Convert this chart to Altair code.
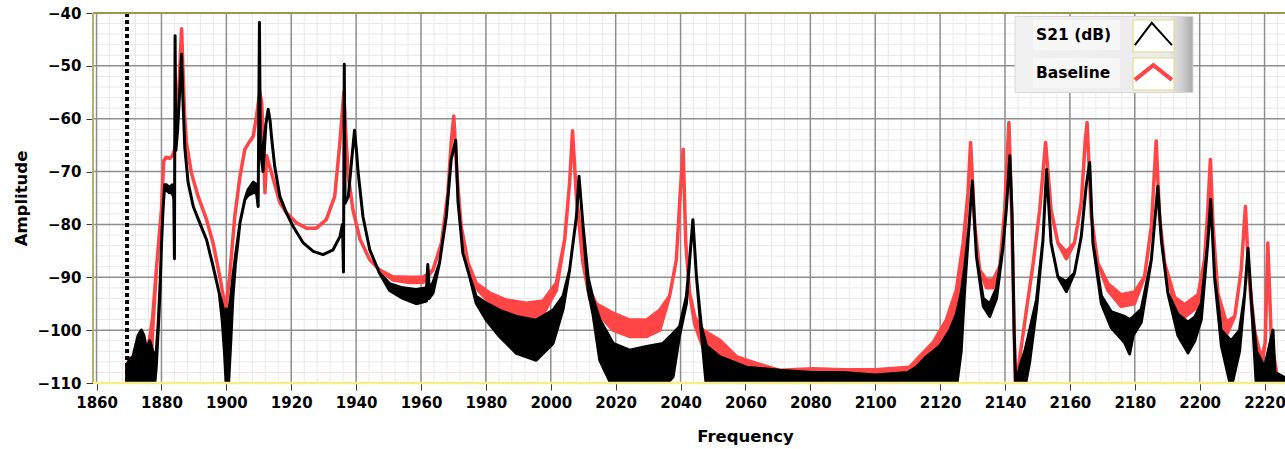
import altair as alt
import pandas as pd

# ---------------------------------------------------------------------------
# S21 (dB) trace: frequency, upper and lower envelope of the noisy trace
# ---------------------------------------------------------------------------
s21_freq = [1869.3, 1870.3, 1871.2, 1872.0, 1872.8, 1873.8, 1874.6, 1875.5, 1876.4, 1877.1,
            1877.8, 1878.4, 1879.0, 1879.6, 1880.0, 1880.5, 1881.0, 1881.5, 1882.5, 1883.3,
            1883.8, 1884.0, 1884.2, 1884.45, 1885.0, 1885.7, 1886.2, 1886.6, 1887.2, 1888.2,
            1889.8, 1891.8, 1893.9, 1895.9, 1897.8, 1898.7, 1899.4, 1900.0, 1900.6, 1901.3,
            1902.0, 1902.8, 1904.2, 1905.7, 1906.7, 1908.3, 1909.3, 1909.8, 1910.2, 1910.5,
            1911.3, 1912.2, 1912.9, 1913.5, 1913.9, 1914.9, 1916.5, 1918.5, 1920.6, 1923.7,
            1926.8, 1929.8, 1932.9, 1935.0, 1935.8, 1936.1, 1936.35, 1936.6, 1937.6, 1938.6,
            1939.5, 1940.1, 1940.6, 1942.1, 1944.2, 1947.2, 1950.3, 1954.4, 1958.5, 1961.7,
            1962.1, 1962.5, 1963.7, 1965.7, 1967.8, 1969.3, 1970.7, 1971.4, 1972.9, 1975.0,
            1977.0, 1980.1, 1984.2, 1989.4, 1995.5, 2000.7, 2003.8, 2005.8, 2007.9, 2008.7,
            2009.9, 2011.5, 2013.0, 2015.1, 2019.2, 2024.3, 2029.5, 2034.6, 2037.7, 2039.7,
            2041.8, 2042.8, 2043.8, 2044.9, 2046.4, 2048.0, 2052.1, 2060.3, 2070.6, 2080.8,
            2090.0, 2100.0, 2110.0, 2112.7, 2115.8, 2119.9, 2123.0, 2125.0, 2126.5, 2127.6,
            2128.9, 2129.9, 2131.2, 2133.3, 2135.3, 2137.4, 2139.4, 2140.4, 2141.5, 2142.2,
            2142.8, 2143.3, 2145.0, 2146.1, 2147.6, 2149.7, 2151.7, 2152.8, 2154.2, 2156.3,
            2158.9, 2161.4, 2163.5, 2165.0, 2166.1, 2167.1, 2169.7, 2172.7, 2176.9, 2178.4,
            2179.5, 2182.0, 2185.1, 2187.1, 2188.2, 2190.2, 2193.3, 2196.4, 2198.5, 2200.5,
            2202.5, 2203.4, 2204.6, 2206.7, 2209.7, 2212.3, 2213.9, 2214.9, 2216.0, 2217.5,
            2220.0, 2222.6, 2223.2, 2226.3]
s21_hi = [-106.6, -105.5, -105.0, -103.0, -101.0, -100.0, -101.0, -103.8, -102.0, -103.5,
          -105.0, -104.0, -98.7, -91.0, -84.0, -77.0, -72.5, -72.5, -73.0, -72.5,
          -75.0, -86.5, -44.3, -66.0, -62.0, -54.0, -47.8, -56.0, -65.5, -72.0,
          -76.6, -79.7, -82.9, -87.9, -93.0, -95.0, -97.0, -96.0, -97.0, -94.0,
          -90.0, -86.0, -79.7, -75.3, -73.4, -72.0, -72.5, -76.6, -41.8, -66.0,
          -65.5, -61.0, -58.2, -60.5, -63.3, -69.0, -74.7, -77.8, -80.4, -83.5,
          -85.1, -85.7, -84.8, -82.3, -80.0, -89.0, -49.7, -76.0, -74.7, -68.0,
          -62.2, -66.0, -70.0, -78.5, -84.8, -89.2, -91.2, -92.0, -92.3, -92.0,
          -87.6, -92.0, -91.0, -87.3, -78.5, -67.7, -64.1, -75.7, -85.4, -89.9,
          -93.6, -94.9, -96.2, -97.4, -98.1, -96.2, -93.5, -88.6, -78.5, -70.9,
          -80.0, -90.0, -94.0, -98.0, -102.5, -103.8, -103.1, -102.5, -100.6, -99.3,
          -93.6, -86.7, -79.1, -89.9, -99.3, -103.0, -105.0, -107.0, -107.6, -108.0,
          -108.0, -108.5, -108.0, -107.0, -105.0, -103.0, -100.0, -97.0, -93.0, -88.0,
          -80.4, -71.8, -86.1, -94.0, -95.0, -92.0, -84.2, -77.2, -67.0, -78.5,
          -100.0, -110.0, -106.0, -104.0, -100.0, -94.3, -83.0, -69.6, -83.5, -89.9,
          -90.8, -89.2, -82.3, -72.8, -68.3, -83.5, -93.5, -96.5, -97.4, -98.0,
          -97.5, -96.0, -86.7, -72.8, -83.0, -93.0, -97.0, -98.5, -97.5, -95.0,
          -83.5, -75.3, -90.0, -100.0, -102.0, -100.0, -93.0, -84.5, -95.0, -104.0,
          -107.0, -100.0, -108.0, -109.0]
s21_lo = [-111.0, -111.0, -111.0, -111.0, -111.0, -111.0, -111.0, -111.0, -111.0, -111.0,
          -111.0, -107.0, -100.0, -92.0, -84.0, -77.0, -72.5, -73.5, -74.0, -74.0,
          -75.0, -86.5, -44.3, -66.0, -62.0, -54.0, -47.8, -56.0, -65.5, -72.0,
          -76.6, -79.7, -82.9, -87.9, -93.0, -98.0, -104.0, -111.0, -111.0, -103.0,
          -94.0, -87.5, -79.7, -75.3, -74.5, -74.0, -74.0, -76.6, -41.8, -66.0,
          -70.0, -61.0, -58.2, -60.5, -63.3, -69.0, -74.7, -77.8, -80.4, -83.5,
          -85.1, -85.7, -84.8, -82.3, -80.0, -89.0, -49.7, -76.0, -74.7, -68.0,
          -62.2, -66.0, -70.0, -78.5, -84.8, -89.2, -92.5, -94.0, -95.0, -94.5,
          -93.0, -94.0, -93.0, -87.3, -78.5, -67.7, -64.1, -75.7, -85.4, -89.9,
          -94.9, -98.1, -101.2, -104.4, -105.7, -102.5, -96.0, -88.6, -78.5, -70.9,
          -80.0, -92.4, -97.0, -105.7, -111.0, -111.0, -111.0, -111.0, -108.8, -101.0,
          -95.0, -86.7, -79.1, -89.9, -100.5, -111.0, -111.0, -111.0, -111.0, -111.0,
          -111.0, -111.0, -111.0, -111.0, -111.0, -111.0, -111.0, -111.0, -104.0, -92.0,
          -80.4, -71.8, -86.1, -95.5, -97.4, -94.0, -84.2, -77.2, -67.0, -78.5,
          -100.0, -111.0, -111.0, -111.0, -106.0, -96.0, -83.0, -69.6, -83.5, -89.9,
          -92.7, -89.2, -82.3, -72.8, -68.3, -83.5, -95.0, -99.5, -102.4, -104.5,
          -101.0, -98.5, -86.7, -72.8, -83.0, -93.0, -101.0, -104.3, -102.0, -98.0,
          -83.5, -75.3, -90.0, -103.0, -111.0, -104.0, -93.0, -84.5, -95.0, -111.0,
          -111.0, -111.0, -111.0, -111.0]

# ---------------------------------------------------------------------------
# Baseline trace
# ---------------------------------------------------------------------------
base_freq = [1869.3, 1870.2, 1870.8, 1872.0, 1874.0, 1875.5, 1876.5, 1877.3, 1878.5, 1880.0,
             1880.7, 1881.4, 1882.5, 1883.4, 1884.1, 1884.6, 1885.1, 1885.7, 1886.2, 1886.7,
             1887.2, 1887.7, 1889.2, 1891.3, 1893.9, 1895.9, 1898.0, 1899.8, 1901.0, 1902.6,
             1904.2, 1905.7, 1907.2, 1908.3, 1909.3, 1910.3, 1910.9, 1911.5, 1911.9, 1912.4,
             1913.9, 1916.5, 1918.5, 1921.6, 1924.7, 1927.8, 1930.8, 1933.4, 1935.0, 1936.2,
             1937.0, 1937.6, 1939.0, 1941.2, 1944.2, 1947.2, 1951.3, 1956.5, 1960.6, 1963.7,
             1966.3, 1968.3, 1969.3, 1970.1, 1971.1, 1972.4, 1974.5, 1977.0, 1981.2, 1986.3,
             1992.5, 1997.6, 2001.7, 2004.3, 2005.8, 2006.7, 2007.9, 2009.9, 2012.0, 2014.0,
             2019.2, 2024.3, 2029.5, 2033.6, 2036.6, 2038.7, 2039.9, 2040.8, 2041.6, 2042.8,
             2044.4, 2046.9, 2052.1, 2057.2, 2063.4, 2070.6, 2080.8, 2090.0, 2100.0, 2110.6,
             2113.7, 2117.8, 2121.9, 2125.0, 2127.1, 2128.6, 2129.4, 2130.7, 2132.2, 2134.3,
             2136.3, 2138.4, 2139.9, 2141.2, 2142.0, 2142.7, 2143.2, 2144.6, 2146.6, 2148.7,
             2150.7, 2152.5, 2154.2, 2156.3, 2158.9, 2161.4, 2163.5, 2164.7, 2165.3, 2166.6,
             2168.6, 2171.7, 2175.8, 2179.9, 2183.0, 2185.1, 2186.1, 2186.6, 2187.6, 2189.2,
             2192.3, 2195.4, 2199.5, 2201.5, 2202.5, 2203.3, 2204.1, 2205.6, 2208.2, 2210.8,
             2212.8, 2214.1, 2215.1, 2216.9, 2219.0, 2220.2, 2221.0, 2222.1, 2224.1, 2226.3]
base_hi = [-106.8, -105.3, -107.5, -105.0, -102.0, -104.0, -101.0, -97.5, -88.0, -77.2,
           -68.0, -67.3, -67.5, -67.0, -65.8, -62.0, -57.0, -50.0, -43.0, -52.0,
           -60.1, -64.5, -70.2, -74.7, -79.1, -83.5, -89.9, -96.2, -89.9, -78.5,
           -70.9, -65.8, -64.3, -63.3, -59.5, -55.0, -57.0, -66.0, -74.0, -67.0,
           -70.2, -75.9, -77.8, -79.7, -80.7, -80.7, -79.1, -74.7, -64.5, -55.0,
           -65.0, -70.9, -77.2, -82.8, -86.7, -88.6, -89.9, -90.0, -90.0, -88.6,
           -83.5, -74.0, -64.5, -59.5, -70.9, -80.4, -87.3, -91.1, -93.0, -94.3,
           -94.9, -94.5, -91.1, -82.8, -72.1, -62.3, -74.7, -85.0, -92.4, -95.0,
           -96.8, -98.1, -98.1, -96.2, -93.6, -86.7, -74.0, -65.8, -83.5, -93.0,
           -97.5, -100.0, -101.9, -105.0, -106.3, -107.6, -107.3, -107.5, -107.5, -107.0,
           -105.0, -102.4, -98.1, -92.4, -83.5, -74.0, -64.5, -80.4, -88.6, -90.5,
           -90.5, -87.9, -77.2, -60.7, -77.0, -96.2, -111.0, -105.0, -96.2, -87.3,
           -77.2, -64.5, -77.2, -83.5, -85.2, -83.5, -75.9, -64.5, -60.7, -78.5,
           -87.3, -91.2, -93.3, -92.8, -89.9, -80.4, -69.6, -64.2, -78.5, -87.3,
           -93.8, -95.2, -93.3, -86.7, -77.2, -67.7, -80.0, -93.0, -98.5, -97.4,
           -88.6, -76.6, -89.0, -100.0, -105.5, -102.4, -83.5, -102.0, -109.5, -109.5]
base_lo = [-111.0, -111.0, -111.0, -111.0, -111.0, -111.0, -111.0, -100.0, -88.0, -77.2,
           -68.0, -67.3, -67.5, -67.0, -65.8, -62.0, -57.0, -50.0, -43.0, -52.0,
           -60.1, -64.5, -70.2, -74.7, -79.1, -83.5, -89.9, -96.2, -89.9, -78.5,
           -70.9, -65.8, -64.3, -63.3, -59.5, -55.0, -57.0, -66.0, -74.0, -67.0,
           -70.2, -75.9, -77.8, -79.7, -80.7, -80.7, -79.1, -74.7, -64.5, -55.0,
           -65.0, -70.9, -77.2, -82.8, -86.7, -88.6, -90.5, -91.0, -91.0, -88.6,
           -83.5, -74.0, -64.5, -59.5, -70.9, -80.4, -87.3, -92.0, -94.9, -96.2,
           -98.1, -97.0, -92.5, -82.8, -72.1, -62.3, -74.7, -87.3, -94.0, -96.5,
           -100.0, -101.2, -101.2, -100.0, -93.6, -86.7, -74.0, -65.8, -83.5, -93.0,
           -99.0, -103.2, -105.7, -108.2, -109.5, -110.0, -111.0, -111.0, -111.0, -111.0,
           -111.0, -108.0, -104.0, -97.0, -86.0, -74.0, -64.5, -80.4, -88.6, -92.0,
           -92.0, -87.9, -77.2, -60.7, -77.0, -96.2, -111.0, -105.0, -96.2, -87.3,
           -77.2, -64.5, -77.2, -83.5, -86.5, -83.5, -75.9, -64.5, -60.7, -78.5,
           -87.3, -92.5, -95.5, -95.0, -89.9, -80.4, -69.6, -64.2, -78.5, -87.3,
           -95.5, -97.5, -95.5, -86.7, -77.2, -67.7, -80.0, -93.0, -101.0, -97.4,
           -88.6, -76.6, -89.0, -102.0, -107.0, -102.4, -83.5, -102.0, -110.5, -110.5]

# Cursor position (dotted marker) and axis ticks
cursor_freq = [1869.4]
x_major = list(range(1860, 2221, 20))
y_major = list(range(-110, -39, 10))
x_minor = [v for v in range(1860, 2227, 4) if v % 20 != 0]
y_minor = [v for v in range(-110, -39, 2) if v % 10 != 0]

W, H = 1192, 370
FONT = "DejaVu Sans"
RED = "#ff4545"

s21 = pd.DataFrame({"f": s21_freq, "hi": s21_hi, "lo": s21_lo})
base = pd.DataFrame({"f": base_freq, "hi": base_hi, "lo": base_lo})

xscale = alt.Scale(domain=[1858.9, 2226.3], nice=False, zero=False)
yscale = alt.Scale(domain=[-110, -40], nice=False, zero=False)

xaxis = alt.Axis(title="Frequency", values=x_major, grid=False, domain=False,
                 tickSize=7, tickColor="#3a3a3a", tickWidth=1,
                 labelFont=FONT, labelFontWeight="bold", labelFontSize=15,
                 labelColor="#000000", labelPadding=5, labelFlush=False,
                 labelOverlap=False, format="d",
                 titleFont=FONT, titleFontWeight="bold", titleFontSize=16.5,
                 titleColor="#000000", titleX=652, titleY=58,
                 titleBaseline="alphabetic", titleAlign="center")
yaxis = alt.Axis(title="Amplitude", values=y_major, grid=False, domain=False,
                 tickSize=7, tickColor="#3a3a3a", tickWidth=1,
                 labelFont=FONT, labelFontWeight="bold", labelFontSize=15,
                 labelColor="#000000", labelPadding=5, labelFlush=False,
                 labelOverlap=False, format="d",
                 titleFont=FONT, titleFontWeight="bold", titleFontSize=16.5,
                 titleColor="#000000", titleX=-67, titleY=185,
                 titleBaseline="alphabetic", titleAlign="center")


def X(field):
    return alt.X(f"{field}:Q", scale=xscale, axis=xaxis)


def Y(field):
    return alt.Y(f"{field}:Q", scale=yscale, axis=yaxis)


one = pd.DataFrame({"k": [0]})

# Grid: light minor lines beneath darker major lines
minor_x = alt.Chart(pd.DataFrame({"f": x_minor})).mark_rule(
    color="#e9e9e9", strokeWidth=1).encode(x=X("f"))
minor_y = alt.Chart(pd.DataFrame({"v": y_minor})).mark_rule(
    color="#e9e9e9", strokeWidth=1).encode(y=Y("v"))
major_x = alt.Chart(pd.DataFrame({"f": x_major})).mark_rule(
    color="#8e8e8e", strokeWidth=1.5).encode(x=X("f"))
major_y = alt.Chart(pd.DataFrame({"v": y_major})).mark_rule(
    color="#8e8e8e", strokeWidth=1.5).encode(y=Y("v"))

# Traces drawn as envelope bands with a thick outline
base_trace = alt.Chart(base).mark_area(
    color=RED, fill=RED, stroke=RED, strokeWidth=3.5, fillOpacity=1,
    strokeJoin="round", interpolate="linear", clip=True
).encode(x=X("f"), y=Y("hi"), y2="lo")
s21_trace = alt.Chart(s21).mark_area(
    color="#000000", fill="#000000", stroke="#000000", strokeWidth=3, fillOpacity=1,
    strokeJoin="round", interpolate="linear", clip=True
).encode(x=X("f"), y=Y("hi"), y2="lo")

cursor = alt.Chart(pd.DataFrame({"f": cursor_freq})).mark_rule(
    color="#000000", strokeWidth=4, strokeDash=[4, 3]).encode(x=X("f"))

# Plot frame
frame_top = alt.Chart(one).mark_rule(color="#9c9848", strokeWidth=2).encode(
    x=alt.value(0), x2=alt.value(W), y=alt.value(0))
frame_left = alt.Chart(one).mark_rule(color="#b8b070", strokeWidth=2).encode(
    x=alt.value(0), y=alt.value(0), y2=alt.value(H))
frame_bottom = alt.Chart(one).mark_rule(color="#f6ec88", strokeWidth=2.5).encode(
    x=alt.value(0), x2=alt.value(W), y=alt.value(H))

# Legend panel
panel = alt.Chart(one).mark_rect(
    fill=alt.Gradient(gradient="linear", x1=0, x2=1, y1=0, y2=0,
                      stops=[alt.GradientStop(color="#f1f1f1", offset=0),
                             alt.GradientStop(color="#ebebeb", offset=0.86),
                             alt.GradientStop(color="#cfcfcf", offset=0.94),
                             alt.GradientStop(color="#a9a9a9", offset=1)]),
    stroke="#d8d8d8", strokeWidth=1
).encode(x=alt.value(922), x2=alt.value(1100), y=alt.value(3.5), y2=alt.value(79.5))
label_bg = alt.Chart(pd.DataFrame({"y0": [7, 45], "y1": [37, 75]})).mark_rect(
    fill="#f7f7f7").encode(x=alt.value(940), x2=alt.value(1027),
                           y=alt.Y("y0:Q", scale=None, axis=None), y2="y1:Q")
sym_box = alt.Chart(pd.DataFrame({"y0": [7, 45], "y1": [39, 77]})).mark_rect(
    fill="#ffffff", stroke="#e4da8a", strokeWidth=1.2).encode(
    x=alt.value(1040), x2=alt.value(1081),
    y=alt.Y("y0:Q", scale=None, axis=None), y2="y1:Q")
leg_text = alt.Chart(pd.DataFrame({"t": ["S21 (dB)", "Baseline"], "yy": [22, 60]})).mark_text(
    font=FONT, fontWeight="bold", fontSize=15.5, color="#000000", align="left",
    baseline="middle").encode(x=alt.value(943), y=alt.Y("yy:Q", scale=None, axis=None),
                              text="t:N")
caret_black = alt.Chart(one).mark_point(
    shape="M-1,0.6L-0.09,-0.6L1,0.6", size=1369, filled=False, stroke="#000000",
    strokeWidth=2, opacity=1).encode(x=alt.value(1060.4), y=alt.value(21))
caret_red = alt.Chart(one).mark_point(
    shape="M-1,0.4L0,-0.4L1,0.4", size=1369, filled=False, stroke=RED,
    strokeWidth=4, opacity=1).encode(x=alt.value(1060.4), y=alt.value(59.5))

chart = alt.layer(
    minor_x, minor_y, major_x, major_y,
    base_trace, s21_trace, cursor,
    frame_top, frame_left, frame_bottom,
    panel, label_bg, sym_box, leg_text, caret_black, caret_red
).properties(
    width=W, height=H,
    autosize=alt.AutoSizeParams(type="none"),
    padding={"left": 93, "top": 13, "right": 0, "bottom": 66},
    background="#ffffff"
).configure_view(stroke=None)

chart.save("out.html", embed_options={"renderer": "svg", "actions": False})
